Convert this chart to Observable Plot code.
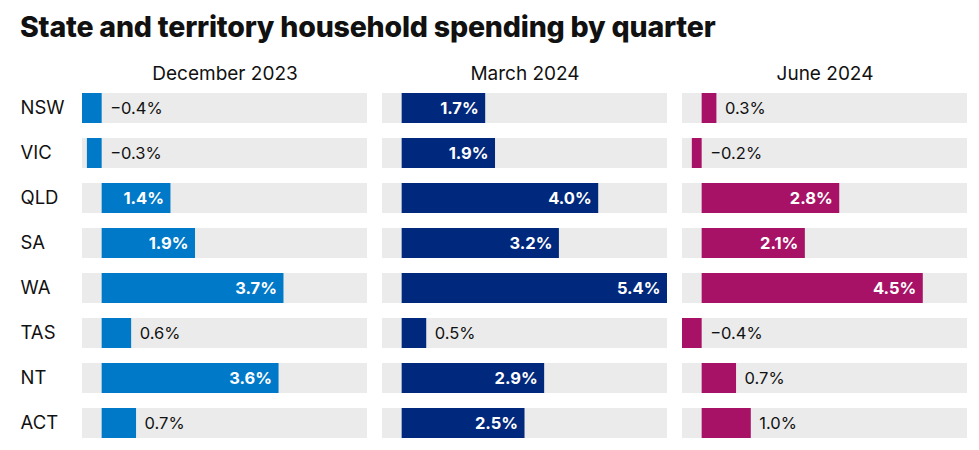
<!DOCTYPE html>
<html>
<head>
<meta charset="utf-8">
<script src="https://cdn.jsdelivr.net/npm/d3@7"></script>
<script src="https://cdn.jsdelivr.net/npm/@observablehq/plot@0.6"></script>
<style>
  html, body { margin: 0; padding: 0; background: #fff; }
  body { width: 979px; height: 450px; overflow: hidden; font-family: Inter, "Noto Sans", sans-serif; color: #111; }
  #title { box-sizing: border-box; height: 45px; padding: 11px 0 0 20px; font-size: 28.5px; line-height: 32px; font-weight: 800; letter-spacing: -0.2px; white-space: nowrap; }
  #chart svg { display: block; }
</style>
</head>
<body>
<div id="title">State and territory household spending by quarter</div>
<div id="chart"></div>
<script>
const quarters = ["December 2023", "March 2024", "June 2024"];
const states = ["NSW", "VIC", "QLD", "SA", "WA", "TAS", "NT", "ACT"];
const dec2023 = [-0.4, -0.3, 1.4, 1.9, 3.7, 0.6, 3.6, 0.7];
const mar2024 = [1.7, 1.9, 4.0, 3.2, 5.4, 0.5, 2.9, 2.5];
const jun2024 = [0.3, -0.2, 2.8, 2.1, 4.5, -0.4, 0.7, 1.0];
const quarterColors = ["#0079c9", "#00287d", "#a71266"];

const series = [dec2023, mar2024, jun2024];
const data = [];
quarters.forEach((q, qi) => states.forEach((s, si) => data.push({quarter: q, state: s, value: series[qi][si]})));
const bg = data.map(d => ({quarter: d.quarter, state: d.state}));
const fmt = d => (d.value < 0 ? "\u2212" : "") + Math.abs(d.value).toFixed(1) + "%";
const inside = data.filter(d => d.value >= 1.2);
const outside = data.filter(d => d.value < 1.2);

const chart = Plot.plot({
  width: 979,
  height: 405,
  marginLeft: 82,
  marginRight: 12,
  marginTop: 40.5,
  marginBottom: 4.5,
  style: {fontFamily: "Inter, 'Noto Sans', sans-serif", color: "#111"},
  x: {domain: [-0.4, 5.4], axis: null},
  y: {domain: states, paddingInner: 1/3, paddingOuter: 1/6, axis: null},
  fx: {domain: quarters, paddingInner: 0.05, paddingOuter: 0, axis: null},
  color: {domain: quarters, range: quarterColors},
  marks: [
    Plot.barX(bg, {fx: "quarter", y: "state", x1: -0.4, x2: 5.4, fill: "#ebebeb"}),
    Plot.barX(data, {fx: "quarter", y: "state", x1: 0, x2: "value", fill: "quarter"}),
    Plot.text(inside, {fx: "quarter", y: "state", x: "value", text: fmt, textAnchor: "end", dx: -7, fill: "white", fontWeight: "bold", fontSize: 16.5}),
    Plot.text(outside, {fx: "quarter", y: "state", x: d => Math.max(0, d.value), text: fmt, textAnchor: "start", dx: 8, fill: "#111", fontSize: 16.5}),
    Plot.axisFx({anchor: "top", tickSize: 0, tickPadding: 6, fontSize: 19, label: null}),
    Plot.axisY({anchor: "left", tickSize: 0, tickPadding: 62, textAnchor: "start", fontSize: 18.5, label: null})
  ]
});
document.getElementById("chart").append(chart);
</script>
</body>
</html>
